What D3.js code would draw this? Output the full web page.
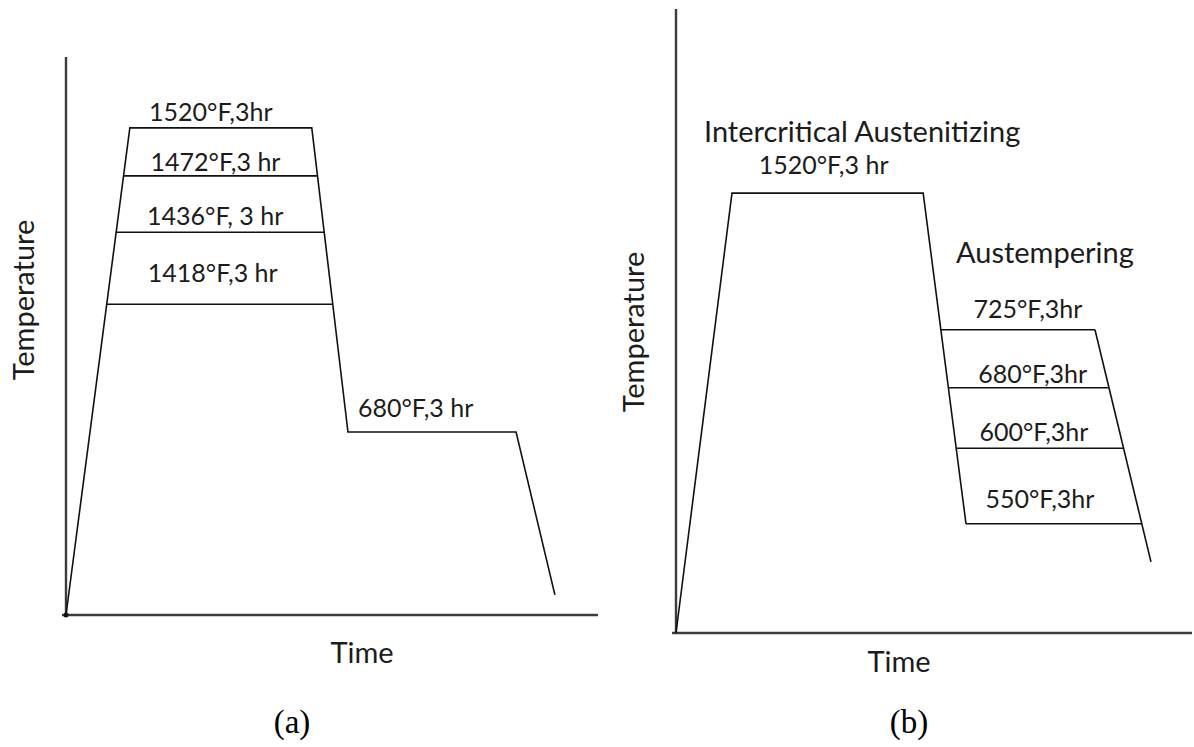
<!DOCTYPE html>
<html>
<head>
<meta charset="utf-8">
<script src="https://cdn.jsdelivr.net/npm/d3@7"></script>
<style>
  body { margin: 0; background: #fff; }
  text { font-family: Lato, sans-serif; fill: #1c1c1c; }
  .cap { font-family: "Liberation Serif", serif; fill: #000; }
</style>
</head>
<body>
<div id="chart"></div>
<script>
// schematic heat-treatment cycles, arbitrary units (0-100) on both axes

// panel (a)
var cycleTimeA = [0, 12.0, 46.2, 53.0, 84.6, 91.9];
var cycleTempA = [0, 87.3, 87.3, 32.8, 32.8, 3.6];
var holdLevelsA = [87.3, 78.7, 68.6, 55.7];
var holdLabelsA = ['1520°F,3hr', '1472°F,3 hr', '1436°F, 3 hr', '1418°F,3 hr'];
var lowHoldLabelA = '680°F,3 hr';

// panel (b)
var cycleTimeB = [0, 10.85, 47.9, 56.2];
var cycleTempB = [0, 70.5, 70.5, 17.5];
var quenchTimeB = [81.2, 92.05];
var quenchTempB = [48.6, 11.4];
var holdLevelsB = [48.6, 39.3, 29.6, 17.5];
var holdLabelsB = ['725°F,3hr', '680°F,3hr', '600°F,3hr', '550°F,3hr'];

var W = 1194, H = 747;
var numSize = '25px', wordSize = '29px';

var svg = d3.select('#chart')
  .append('svg')
  .attr('width', W)
  .attr('height', H);

// x of a line segment at a given level
function xAt(t0, v0, t1, v1, v) {
  return t0 + (t1 - t0) * (v - v0) / (v1 - v0);
}

function drawAxes(x, y, xMinPx, yTitle, xTitle, cap) {
  var g = svg.append('g');
  g.append('line')
    .attr('x1', x(0)).attr('y1', y(0))
    .attr('x2', x(0)).attr('y2', y.range()[1])
    .attr('stroke', '#3c3c3c').attr('stroke-width', 2.4);
  g.append('line')
    .attr('x1', xMinPx).attr('y1', y(0))
    .attr('x2', x.range()[1]).attr('y2', y(0))
    .attr('stroke', '#3c3c3c').attr('stroke-width', 2.4);
  g.append('text')
    .attr('transform', 'translate(' + yTitle[0] + ',' + yTitle[1] + ') rotate(-90)')
    .attr('text-anchor', 'middle')
    .style('font-size', wordSize)
    .text('Temperature');
  g.append('text')
    .attr('x', xTitle[0]).attr('y', xTitle[1])
    .attr('text-anchor', 'middle')
    .style('font-size', wordSize)
    .text('Time');
  g.append('text')
    .attr('class', 'cap')
    .attr('x', cap[0]).attr('y', cap[1])
    .attr('text-anchor', 'middle')
    .style('font-size', '33px')
    .text(cap[2]);
}

function seg(x1, y1, x2, y2) {
  svg.append('line')
    .attr('x1', x1).attr('y1', y1)
    .attr('x2', x2).attr('y2', y2)
    .attr('stroke', '#111').attr('stroke-width', 1.6);
}

var line = d3.line();

// ---------- panel (a)
var xA = d3.scaleLinear().domain([0, 100]).range([66, 598]);
var yA = d3.scaleLinear().domain([0, 100]).range([615, 57]);

drawAxes(xA, yA, 62, [34, 300], [362, 663], [292, 733, '(a)']);

svg.append('path')
  .attr('d', line(cycleTimeA.map(function(t, i) { return [xA(t), yA(cycleTempA[i])]; })))
  .attr('fill', 'none').attr('stroke', '#111').attr('stroke-width', 1.6);

svg.append('circle')
  .attr('cx', xA(0)).attr('cy', yA(0)).attr('r', 2.5).attr('fill', '#111');

var nudgeA = [[-10, -7], [-5, -5], [-5, -7], [-7, -22]];
holdLevelsA.forEach(function(v, i) {
  var l = xA(xAt(cycleTimeA[0], cycleTempA[0], cycleTimeA[1], cycleTempA[1], v));
  var r = xA(xAt(cycleTimeA[2], cycleTempA[2], cycleTimeA[3], cycleTempA[3], v));
  if (i > 0) seg(l, yA(v), r, yA(v));
  svg.append('text')
    .attr('x', (l + r) / 2 + nudgeA[i][0])
    .attr('y', yA(v) + nudgeA[i][1])
    .attr('text-anchor', 'middle')
    .style('font-size', numSize)
    .text(holdLabelsA[i]);
});

svg.append('text')
  .attr('x', xA(cycleTimeA[3]) + 10)
  .attr('y', yA(cycleTempA[3]) - 15)
  .style('font-size', numSize)
  .text(lowHoldLabelA);

// ---------- panel (b)
var xB = d3.scaleLinear().domain([0, 100]).range([676, 1192]);
var yB = d3.scaleLinear().domain([0, 100]).range([633, 9]);

drawAxes(xB, yB, 672, [644, 332], [899, 672], [909, 733, '(b)']);

svg.append('path')
  .attr('d', line(cycleTimeB.map(function(t, i) { return [xB(t), yB(cycleTempB[i])]; })))
  .attr('fill', 'none').attr('stroke', '#111').attr('stroke-width', 1.6);

svg.append('path')
  .attr('d', line(quenchTimeB.map(function(t, i) { return [xB(t), yB(quenchTempB[i])]; })))
  .attr('fill', 'none').attr('stroke', '#111').attr('stroke-width', 1.6);

svg.append('text')
  .attr('x', xB(cycleTimeB[1]) - 28)
  .attr('y', yB(cycleTempB[1]) - 51)
  .style('font-size', wordSize)
  .text('Intercritical Austenitizing');

svg.append('text')
  .attr('x', (xB(cycleTimeB[1]) + xB(cycleTimeB[2])) / 2 - 4)
  .attr('y', yB(cycleTempB[1]) - 19)
  .attr('text-anchor', 'middle')
  .style('font-size', numSize)
  .text('1520°F,3 hr');

svg.append('text')
  .attr('x', xB(quenchTimeB[0]) - 139)
  .attr('y', yB(quenchTempB[0]) - 67)
  .style('font-size', wordSize)
  .text('Austempering');

var nudgeB = [[10, -12], [4, -5], [-6, -7], [-14, -16]];
holdLevelsB.forEach(function(v, i) {
  var l = xB(xAt(cycleTimeB[2], cycleTempB[2], cycleTimeB[3], cycleTempB[3], v));
  var r = xB(xAt(quenchTimeB[0], quenchTempB[0], quenchTimeB[1], quenchTempB[1], v));
  seg(l, yB(v), r, yB(v));
  svg.append('text')
    .attr('x', (l + r) / 2 + nudgeB[i][0])
    .attr('y', yB(v) + nudgeB[i][1])
    .attr('text-anchor', 'middle')
    .style('font-size', numSize)
    .text(holdLabelsB[i]);
});
</script>
</body>
</html>
